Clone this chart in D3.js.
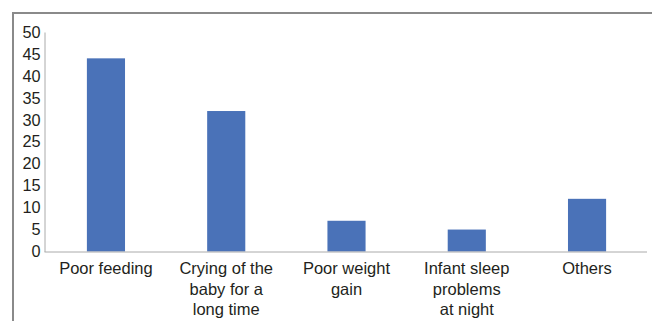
<!DOCTYPE html>
<html><head><meta charset="utf-8">
<script src="https://cdn.jsdelivr.net/npm/d3@7"></script>
<style>html,body{margin:0;padding:0;background:#fff;}svg{display:block;}</style>
</head><body>
<svg id="chart" width="652" height="321"></svg>
<script>
const categories = [["Poor feeding"], ["Crying of the", "baby for a", "long time"], ["Poor weight", "gain"], ["Infant sleep", "problems", "at night"], ["Others"]];
const values = [44, 32, 7, 5, 12];
const yTicks = [0, 5, 10, 15, 20, 25, 30, 35, 40, 45, 50];

const svg = d3.select("#chart");
const W = 652, H = 321;
const x = d3.scaleBand().domain(d3.range(categories.length)).range([46, 647]).paddingInner(0.683).paddingOuter(0.34);
const y = d3.scaleLinear().domain([0, 50]).range([251.5, 32]);

// frame
svg.append("path").attr("d", `M13,${H+2} V13 H${W+2}`).attr("fill", "none").attr("stroke", "#8a8a8a").attr("stroke-width", 2);

// bars
svg.selectAll("rect.bar").data(values).join("rect").attr("class", "bar")
  .attr("x", (d, i) => x(i)).attr("width", x.bandwidth())
  .attr("y", d => y(d)).attr("height", d => y(0) - y(d))
  .attr("fill", "#4a72b8");

// y axis
const yAxis = svg.append("g").attr("transform", "translate(44.5,0)")
  .call(d3.axisLeft(y).tickValues(yTicks).tickSize(0).tickPadding(4));
yAxis.select(".domain").attr("stroke", "#aaaaaa");
yAxis.selectAll("text").attr("font-family", "Liberation Sans, Arial, sans-serif").attr("font-size", 16.3).attr("fill", "#231f20");

// x axis
const xAxis = svg.append("g").attr("transform", `translate(0,${y(0)})`)
  .call(d3.axisBottom(x).tickSize(0).tickFormat(""));
xAxis.select(".domain").attr("stroke", "#aaaaaa").attr("d", `M44.5,0.5H647`);

// x labels
const lab = svg.append("g");
categories.forEach((lines, i) => {
  const t = lab.append("text").attr("text-anchor", "middle")
    .attr("font-family", "Liberation Sans, Arial, sans-serif").attr("font-size", 16.5).attr("fill", "#231f20")
    .attr("x", x(i) + x.bandwidth() / 2).attr("y", 274);
  lines.forEach((l, j) => t.append("tspan").attr("x", x(i) + x.bandwidth() / 2).attr("dy", j === 0 ? 0 : 20.5).text(l));
});
</script>
</body></html>
